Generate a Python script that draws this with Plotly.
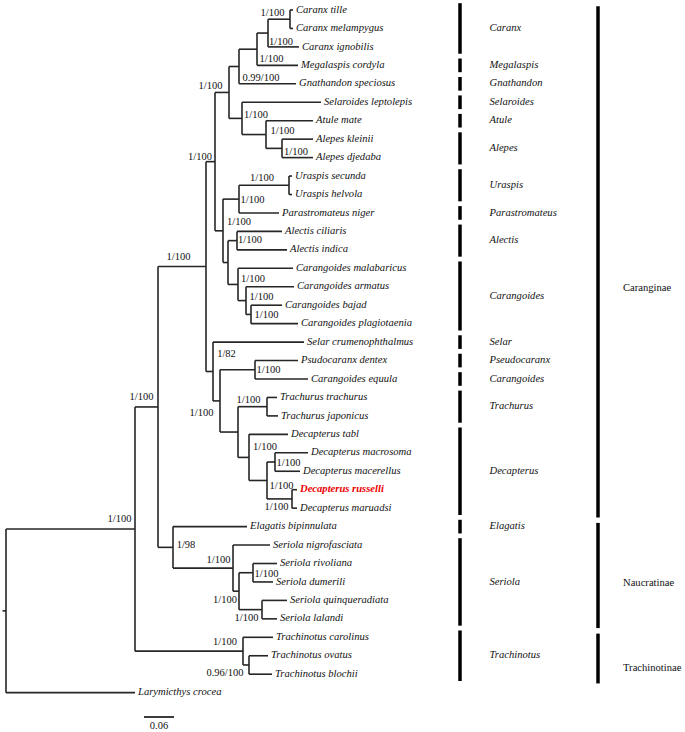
import plotly.graph_objects as go

# ---------------- data ----------------
leaf_names = ["Caranx tille", "Caranx melampygus", "Caranx ignobilis", "Megalaspis cordyla",
              "Gnathandon speciosus", "Selaroides leptolepis", "Atule mate", "Alepes kleinii",
              "Alepes djedaba", "Uraspis secunda", "Uraspis helvola", "Parastromateus niger",
              "Alectis ciliaris", "Alectis indica", "Carangoides malabaricus", "Carangoides armatus",
              "Carangoides bajad", "Carangoides plagiotaenia", "Selar crumenophthalmus",
              "Psudocaranx dentex", "Carangoides equula", "Trachurus trachurus", "Trachurus japonicus",
              "Decapterus tabl", "Decapterus macrosoma", "Decapterus macerellus", "Decapterus russelli",
              "Decapterus maruadsi", "Elagatis bipinnulata", "Seriola nigrofasciata", "Seriola rivoliana",
              "Seriola dumerili", "Seriola quinqueradiata", "Seriola lalandi", "Trachinotus carolinus",
              "Trachinotus ovatus", "Trachinotus blochii", "Larymicthys crocea"]
leaf_parent = ["tm", "tm", "car", "cm", "q", "sel", "aa", "al", "al", "ura", "ura", "up", "ale", "ale",
               "cg", "cab", "cbp", "cbp", "n213", "pe", "pe", "tr", "tr", "dec", "mm", "mm", "rm", "rm",
               "n173", "S", "rd", "rd", "ql", "ql", "T", "Tsub", "Tsub", "root"]
leaf_branch = [0.006, 0.006, 0.062, 0.082, 0.114, 0.158, 0.094, 0.062, 0.062, 0.006, 0.006, 0.080,
               0.090, 0.100, 0.110, 0.096, 0.062, 0.094, 0.182, 0.086, 0.106, 0.020, 0.022, 0.078,
               0.066, 0.050, 0.010, 0.010, 0.148, 0.074, 0.048, 0.040, 0.050, 0.030, 0.060, 0.038,
               0.046, 0.258]

node_names = ["root", "I", "n158", "n206", "n215", "n229", "q", "cm", "car", "tm", "sel", "aa", "al",
              "n223", "up", "ura", "ac", "ale", "cg", "cab", "cbp", "n213", "n220", "pe", "td", "tr",
              "dec", "dmm", "mm", "rm", "n173", "S", "Ssub", "rd", "ql", "T", "Tsub"]
node_parent = [None, "root", "I", "n158", "n206", "n215", "n229", "q", "cm", "car", "n229", "sel", "aa",
               "n215", "n223", "up", "n223", "ac", "ac", "cg", "cab", "n206", "n213", "n220", "n220", "td",
               "td", "dec", "dmm", "dmm", "n158", "n173", "S", "Ssub", "Ssub", "I", "T"]
node_branch = [0.0, 0.258, 0.046, 0.096, 0.018, 0.028, 0.020, 0.036, 0.022, 0.044, 0.026, 0.048, 0.032,
               0.016, 0.032, 0.100, 0.010, 0.018, 0.020, 0.016, 0.010, 0.014, 0.014, 0.070, 0.036, 0.058,
               0.022, 0.036, 0.016, 0.050, 0.030, 0.120, 0.012, 0.028, 0.046, 0.216, 0.012]
node_support = ["", "1/100", "1/100", "1/100", "1/100", "1/100", "0.99/100", "1/100", "1/100", "1/100",
                "1/100", "1/100", "1/100", "1/100", "1/100", "1/100", "", "1/100", "1/100", "1/100",
                "1/100", "1/82", "1/100", "1/100", "", "1/100", "1/100", "1/100", "1/100", "1/100",
                "1/98", "1/100", "1/100", "1/100", "1/100", "1/100", "0.96/100"]

genus_names = ["Caranx", "Megalaspis", "Gnathandon", "Selaroides", "Atule", "Alepes", "Uraspis",
               "Parastromateus", "Alectis", "Carangoides", "Selar", "Pseudocaranx", "Carangoides",
               "Trachurus", "Decapterus", "Elagatis", "Seriola", "Trachinotus"]
genus_first = [0, 3, 4, 5, 6, 7, 9, 11, 12, 14, 18, 19, 20, 21, 23, 28, 29, 34]
genus_last = [2, 3, 4, 5, 6, 8, 10, 11, 13, 17, 18, 19, 20, 22, 27, 28, 33, 36]

subfamily_names = ["Caranginae", "Naucratinae", "Trachinotinae"]
subfamily_first = [0, 28, 34]
subfamily_last = [27, 33, 36]

scale_bar_length = 0.06
highlight_taxon = "Decapterus russelli"

# ---------------- layout / placement (styling, not data) ----------------
W, H = 685, 732
PX = 0.002            # data units per horizontal pixel
LEAF_PX = 18.45       # pixels per leaf row
PY = 1.0 / LEAF_PX
X0 = -6 * PX
Y0 = -10 * PY
label_offsets = {  # support label centre offset from node, in pixels
    "I": (-15.5, -9.3), "n158": (-16.5, -10), "n206": (-27.5, -9.6), "n215": (-15, -4.7),
    "n229": (-18.5, -6.5), "q": (22, 11.5), "cm": (14.5, 10), "car": (13, 9), "tm": (-17.5, -6),
    "sel": (14, -3.4), "aa": (16.5, -3.5), "al": (14, 3.6), "n223": (16, -8), "up": (13.5, 1),
    "ura": (-27, -7), "ale": (13, 0), "cg": (15, -5.4), "cab": (15.5, -3.6), "cbp": (15.5, 0.6),
    "n213": (13.5, -17.5), "n220": (-18.5, 12), "pe": (13.5, 1), "tr": (-18.5, -6.7),
    "dec": (16, -10.4), "dmm": (14.5, 5.5), "mm": (13.5, 1), "rm": (-15.5, 8), "n173": (13, -2.4),
    "S": (-14.5, -8), "Ssub": (-14, 9), "rd": (13.5, 1.3), "ql": (-15.5, 8.4), "T": (-18, -9),
    "Tsub": (-24, 8),
}
genus_bar_x = 454 * PX
genus_text_x = 483.5 * PX
subfam_bar_x = 592 * PX
subfam_text_x = 617 * PX
subfam_label_y = [15.07, 31.06, 35.66]
scale_x0 = 138 * PX
scale_y = 38.32

# ---------------- tree geometry ----------------
parent_of, blen = {}, {}
for n, p, b in zip(node_names, node_parent, node_branch):
    parent_of[n], blen[n] = p, b
for n, p, b in zip(leaf_names, leaf_parent, leaf_branch):
    parent_of[n], blen[n] = p, b

def depth(n):
    d = 0.0
    while parent_of[n] is not None:
        d += blen[n]
        n = parent_of[n]
    return d

children = {n: [] for n in node_names}
for n in node_names + leaf_names:
    if parent_of[n] is not None:
        children[parent_of[n]].append(n)

ypos = {n: float(i) for i, n in enumerate(leaf_names)}
def gety(n):
    if n not in ypos:
        ys = [gety(c) for c in children[n]]
        ypos[n] = (min(ys) + max(ys)) / 2
    return ypos[n]

xpos = {n: depth(n) for n in node_names + leaf_names}
for n in node_names:
    gety(n)

lx, ly = [], []
for n in node_names:
    cy = [ypos[c] for c in children[n]]
    lx += [xpos[n], xpos[n], None]
    ly += [min(cy), max(cy), None]
for n in node_names + leaf_names:
    p = parent_of[n]
    if p is not None:
        lx += [xpos[p], xpos[n], None]
        ly += [ypos[n], ypos[n], None]
# root stub
lx += [xpos["root"] - 3.5 * PX, xpos["root"], None]
ly += [ypos["root"], ypos["root"], None]

fig = go.Figure()
fig.add_trace(go.Scatter(x=lx, y=ly, mode="lines", line=dict(color="#262626", width=1.6),
                         hoverinfo="skip", showlegend=False, cliponaxis=False))

# leaf labels
serif = "Liberation Serif, Times New Roman, serif"
normal_leaves = [n for n in leaf_names if n != highlight_taxon]
fig.add_trace(go.Scatter(
    x=[xpos[n] + 3 * PX for n in normal_leaves], y=[ypos[n] for n in normal_leaves],
    text=normal_leaves, mode="text", textposition="middle right", cliponaxis=False,
    textfont=dict(family=serif, size=10.6, color="#111", style="italic"),
    hoverinfo="skip", showlegend=False))
fig.add_trace(go.Scatter(
    x=[xpos[highlight_taxon] + 3 * PX], y=[ypos[highlight_taxon]],
    text=["<b>" + highlight_taxon + "</b>"], mode="text", textposition="middle right",
    cliponaxis=False,
    textfont=dict(family=serif, size=10.6, color="#ee0000", style="italic"),
    hoverinfo="skip", showlegend=False))

# support labels
sx, sy, st = [], [], []
for n, s in zip(node_names, node_support):
    if s:
        dx, dy = label_offsets[n]
        sx.append(xpos[n] + dx * PX)
        sy.append(ypos[n] + dy * PY)
        st.append(s)
fig.add_trace(go.Scatter(x=sx, y=sy, text=st, mode="text", textposition="middle center",
                         cliponaxis=False,
                         textfont=dict(family=serif, size=10.5, color="#111"),
                         hoverinfo="skip", showlegend=False))

# genus bars
bx, by = [], []
for f, l in zip(genus_first, genus_last):
    bx += [genus_bar_x, genus_bar_x, None]
    by += [f - 0.37, l + 0.37, None]
fig.add_trace(go.Scatter(x=bx, y=by, mode="lines", line=dict(color="black", width=3.5),
                         hoverinfo="skip", showlegend=False, cliponaxis=False))
fig.add_trace(go.Scatter(
    x=[genus_text_x] * len(genus_names),
    y=[(f + l) / 2 for f, l in zip(genus_first, genus_last)],
    text=genus_names, mode="text", textposition="middle right", cliponaxis=False,
    textfont=dict(family=serif, size=10.6, color="#111", style="italic"),
    hoverinfo="skip", showlegend=False))

# subfamily bars
fx, fy = [], []
for f, l in zip(subfamily_first, subfamily_last):
    fx += [subfam_bar_x, subfam_bar_x, None]
    fy += [f - 0.2, l + 0.5, None]
fig.add_trace(go.Scatter(x=fx, y=fy, mode="lines", line=dict(color="black", width=3.5),
                         hoverinfo="skip", showlegend=False, cliponaxis=False))
fig.add_trace(go.Scatter(
    x=[subfam_text_x] * len(subfamily_names), y=subfam_label_y,
    text=subfamily_names, mode="text", textposition="middle right", cliponaxis=False,
    textfont=dict(family=serif, size=10.6, color="#111"),
    hoverinfo="skip", showlegend=False))

# scale bar
fig.add_trace(go.Scatter(x=[scale_x0, scale_x0 + scale_bar_length], y=[scale_y, scale_y],
                         mode="lines", line=dict(color="#262626", width=1.8),
                         hoverinfo="skip", showlegend=False, cliponaxis=False))
fig.add_trace(go.Scatter(x=[scale_x0 + scale_bar_length / 2], y=[scale_y + 9.5 * PY],
                         text=[f"{scale_bar_length:.2f}"], mode="text", textposition="middle center",
                         cliponaxis=False,
                         textfont=dict(family=serif, size=10.5, color="#111"),
                         hoverinfo="skip", showlegend=False))

fig.update_layout(
    width=W, height=H, margin=dict(l=0, r=0, t=0, b=0),
    paper_bgcolor="white", plot_bgcolor="white", hovermode=False,
    xaxis=dict(range=[X0, X0 + W * PX], visible=False, fixedrange=True),
    yaxis=dict(range=[Y0 + H * PY, Y0], visible=False, fixedrange=True),
)
fig.write_html("out.html", config={"displayModeBar": False, "staticPlot": True},
               post_script="document.body.style.margin='0px';document.body.style.overflow='hidden';")
